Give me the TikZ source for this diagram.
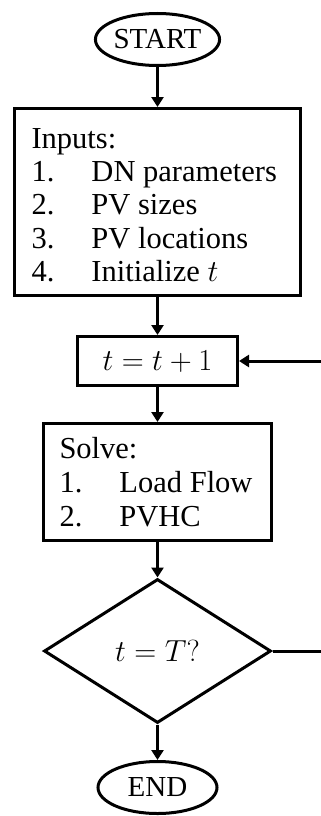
\RequirePackage{fix-cm}
\documentclass[tikz,border=0pt]{standalone}
\usepackage{fontspec}
\setmainfont{Liberation Serif}
\usetikzlibrary{shapes.geometric,arrows.meta}

\begin{document}
\begin{tikzpicture}[x=1pt,y=-1pt,
  line width=3pt,
  term/.style={draw,ellipse,inner sep=0pt,minimum width=119pt,minimum height=52pt,
    font=\fontsize{29}{32}\selectfont},
  procbox/.style={draw,rectangle,inner sep=0pt},
  decide/.style={draw,diamond,inner sep=0pt,minimum width=227pt,minimum height=144pt},
  flow/.style={-{Triangle[length=10pt,width=12pt]}},
  listtext/.style={inner sep=0pt,anchor=north west},
  mathtext/.style={inner sep=0pt,font=\fontsize{30.5}{33}\selectfont}
]
\useasboundingbox (0,0) rectangle (321,816);

% terminals, boxes and decision
\node[term] (start) at (157.5,39.5) {START};
\node[procbox,minimum width=286pt,minimum height=187pt] (inputs) at (157.5,202) {};
\node[procbox,minimum width=160pt,minimum height=49pt] (incr) at (157.5,361) {};
\node[procbox,minimum width=228pt,minimum height=117pt] (solve) at (157.5,482) {};
\node[decide] (check) at (157.5,651) {};
\node[term] (finish) at (157.5,787.5) {END};

% box contents
\node[listtext] (inputsText) at (30,123.5) {\fontsize{30.5}{33.3}\selectfont
  \begin{tabular}{@{}p{60pt}@{}l@{}}
    \multicolumn{2}{@{}l@{}}{Inputs:}\\
    1. & DN parameters\\
    2. & PV sizes\\
    3. & PV locations\\
    4. & Initialize $t$
  \end{tabular}};
\node[mathtext] (incrText) at (157.5,362) {$t = t + 1$};
\node[listtext] (solveText) at (58,432.9) {\fontsize{30.5}{34}\selectfont
  \begin{tabular}{@{}p{60pt}@{}l@{}}
    \multicolumn{2}{@{}l@{}}{Solve:}\\
    1. & Load Flow\\
    2. & PVHC
  \end{tabular}};
\node[mathtext] (checkText) at (157.5,651) {$t = T?$};

% loop ends at the right edge
\coordinate (loopOut) at (321,651);
\coordinate (loopIn) at (321,361);

% connectors
\draw[flow] (start) -- (inputs);
\draw[flow] (inputs) -- (incr);
\draw[flow] (incr) -- (solve);
\draw[flow] (solve) -- (check);
\draw[flow] (check) -- (finish);
\draw (check.east) -- (loopOut);
\draw[flow] (loopIn) -- (incr.east);
\end{tikzpicture}
\end{document}
